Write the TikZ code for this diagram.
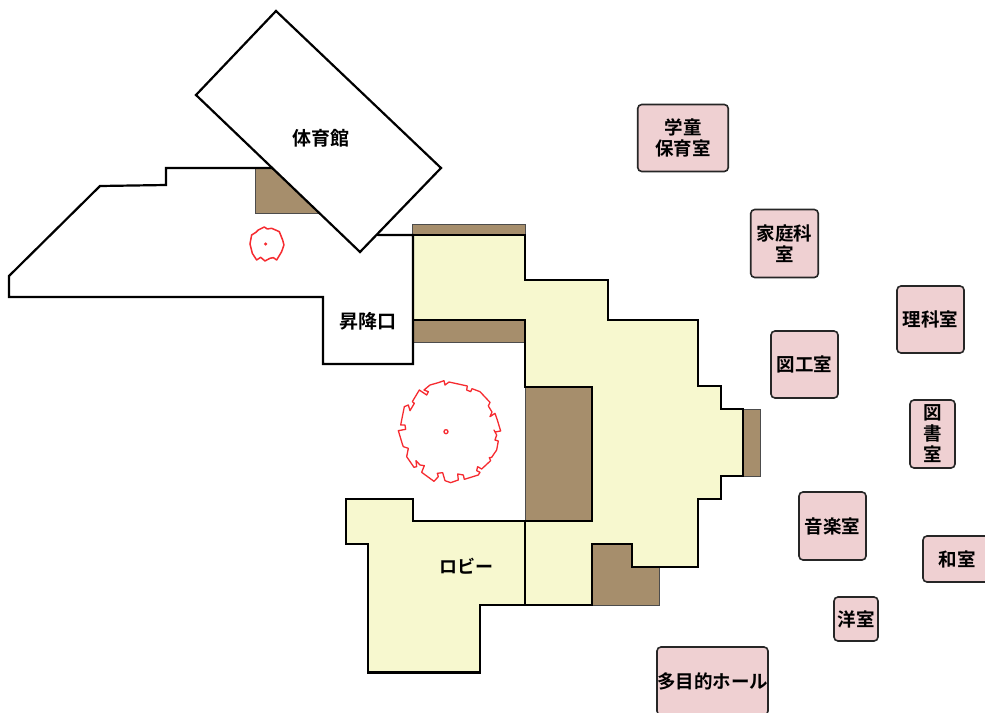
\documentclass[tikz,border=0pt]{standalone}
\usepackage{fontspec}
\setmainfont{Noto Sans CJK JP}[BoldFont={Noto Sans CJK JP Bold}]
\definecolor{brownarea}{HTML}{A68E6C}
\definecolor{yellowarea}{HTML}{F7F8CF}
\definecolor{pinkroom}{HTML}{EFD0D2}
\definecolor{redline}{HTML}{F62B30}
\tikzset{
  wall/.style={draw=black,line width=2.2pt,line join=miter},
  brownblock/.style={fill=brownarea,draw=black!70,line width=1pt},
  yellowblock/.style={wall,fill=yellowarea},
  label/.style={font=\fontsize{19}{21}\selectfont\bfseries,align=center,inner sep=0pt},
  room/.style={font=\fontsize{18.5}{21}\selectfont\bfseries,align=center,inner sep=0pt,fill=pinkroom,draw=black!85,line width=1.6pt,rounded corners=4pt,minimum width=#1},
  tree/.style={draw=redline,line width=1.3pt,line join=round},
}
\begin{document}
\begin{tikzpicture}[x=1pt,y=-1pt]
\clip (0,0) rectangle (985,712);
\fill[white] (0,0) rectangle (985,712);
% brown areas
\draw[brownblock] (255,168) rectangle (325,213);
\draw[brownblock] (412,224) rectangle (525,236);
\draw[brownblock] (413,320) rectangle (525,342);
\draw[brownblock] (525,387) rectangle (592,521);
\draw[brownblock] (743,409) rectangle (760,476);
\draw[brownblock] (592,544) rectangle (659,605);
% main yellow wing
\draw[yellowblock] (413,235) -- (525,235) -- (525,280) -- (608,280) -- (608,320) -- (698,320)
  -- (698,386) -- (721,386) -- (721,409) -- (743,409) -- (743,476) -- (721,476) -- (721,499)
  -- (698,499) -- (698,567) -- (632,567) -- (632,544) -- (592,544) -- (592,605) -- (525,605)
  -- (525,521) -- (592,521) -- (592,387) -- (525,387) -- (525,320) -- (413,320) -- cycle;
% lobby
\draw[yellowblock] (346,499) -- (413,499) -- (413,521) -- (525,521) -- (525,605) -- (480,605)
  -- (480,672.5) -- (368,672.5) -- (368,544) -- (346,544) -- cycle;
% left building
\draw[wall] (9,276) -- (100,186) -- (166,185) -- (166,168) -- (272,168) -- (378,235) -- (413,235)
  -- (413,364) -- (323,364) -- (323,297) -- (9,297) -- cycle;
% gymnasium
\draw[wall,fill=white] (276,11) -- (441,168) -- (360,252) -- (196,95) -- cycle;
% large tree outline
\begin{scope}[shift={(380,370)},x=0.3333pt,y=-0.3333pt]
\draw[tree] (150,45) -- (178,37) -- (192,32) -- (195,45) -- (207,36) -- (262,48) -- (260,60) -- (272,65)
  -- (276,56) -- (300,65) -- (330,97) -- (325,108) -- (336,126) -- (330,140) -- (345,130) -- (352,150)
  -- (362,183) -- (345,186) -- (342,180) -- (350,195) -- (345,210) -- (355,213) -- (350,240) -- (335,262)
  -- (328,263) -- (332,272) -- (305,297) -- (293,290) -- (290,302) -- (300,307) -- (295,315) -- (253,328)
  -- (250,315) -- (233,312) -- (235,330) -- (212,338) -- (195,332) -- (188,308) -- (172,310) -- (175,320)
  -- (162,334) -- (125,307) -- (133,287) -- (120,285) -- (108,272) -- (110,290) -- (102,292) -- (80,260)
  -- (85,235) -- (70,230) -- (67,222) -- (55,182) -- (77,178) -- (75,165) -- (62,165) -- (73,110)
  -- (85,105) -- (90,122) -- (103,100) -- (97,95) -- (118,60) -- (140,75) -- (145,65) -- (132,60) -- cycle;
\draw[tree] (198,185) circle (6);
\end{scope}
% small tree outline
\begin{scope}[x=0.3333pt,y=-0.3333pt]
\draw[tree,line width=1.5pt] (750,732) -- (755,705) -- (768,697) -- (775,690) -- (793,681) -- (802,687) -- (815,685)
  -- (838,695) -- (848,720) -- (852,735) -- (845,755) -- (830,780) -- (820,773) -- (810,775) -- (795,783) -- (782,772)
  -- (770,780) -- (757,760) -- cycle;
\fill[redline] (797,732) circle (5);
\end{scope}
% labels
\node[label] (gym) at (321,138) {体育館};
\node[label] (entrance) at (368,321) {昇降口};
\node[label,font=\fontsize{18}{21}\selectfont\bfseries] (lobby) at (466.5,566) {ロビー};
% rooms
\node[room=90.5pt,minimum height=67pt] (gakudo) at (683,138) {学童\\保育室};
\node[room=67.5pt,minimum height=68pt] (katei) at (784.5,243.5) {家庭科\\室};
\node[room=67pt,minimum height=67pt] (rika) at (930.5,319.5) {理科室};
\node[room=67pt,minimum height=67pt] (zuko) at (804.5,364.5) {図工室};
\node[room=45pt,minimum height=68pt] (tosho) at (932.5,434) {図\\書\\室};
\node[room=67pt,minimum height=68pt] (ongaku) at (832.5,526) {音楽室};
\node[room=68pt,minimum height=46pt] (washitsu) at (957,559) {和室};
\node[room=44pt,minimum height=44pt] (yoshitsu) at (856,619) {洋室};
\node[room=111pt,minimum height=68pt] (hall) at (712.5,681) {多目的ホール};
\end{tikzpicture}
\end{document}
